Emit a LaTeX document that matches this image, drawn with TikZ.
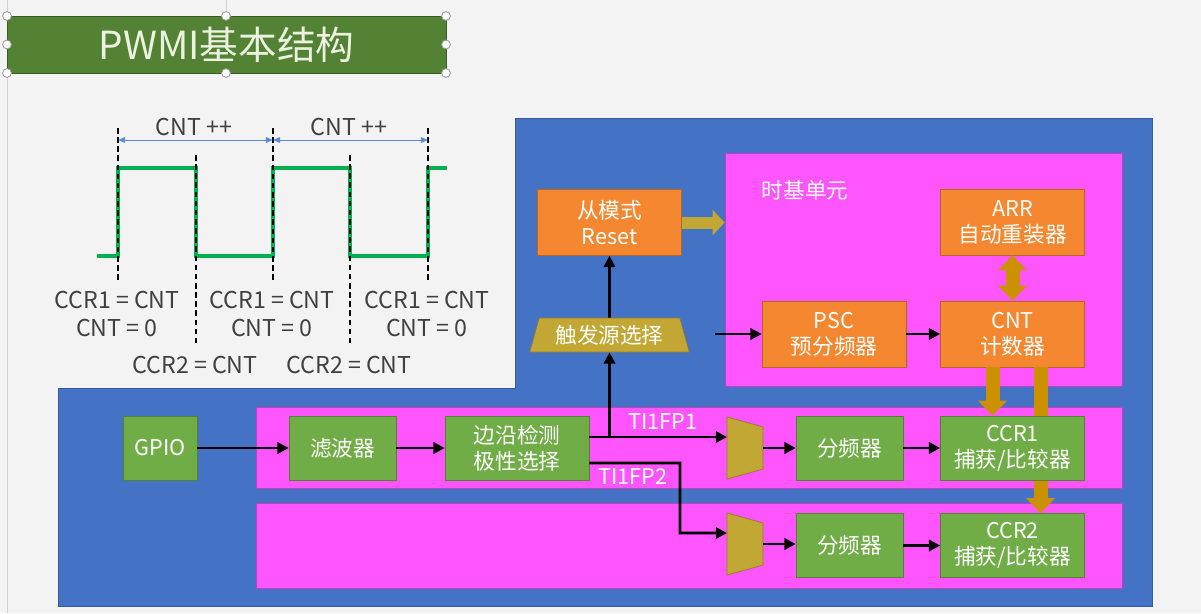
\documentclass[tikz,border=0pt]{standalone}
\usepackage{fontspec}
\setmainfont{Noto Sans CJK SC}
\usetikzlibrary{arrows.meta,shapes.geometric}
\definecolor{slidebg}{RGB}{243,243,243}
\definecolor{titlegreen}{RGB}{84,130,53}
\definecolor{titletext}{RGB}{236,242,224}
\definecolor{chipblue}{RGB}{68,114,196}
\definecolor{unitpink}{RGB}{255,85,255}
\definecolor{regorange}{RGB}{244,135,48}
\definecolor{stagegreen}{RGB}{112,173,71}
\definecolor{muxgold}{RGB}{194,167,52}
\definecolor{busgold}{RGB}{204,145,0}
\definecolor{wavegreen}{RGB}{0,176,80}
\definecolor{labelgray}{RGB}{64,64,64}
\definecolor{spanblue}{RGB}{91,140,220}
\begin{document}
\begin{tikzpicture}[x=0.025cm,y=-0.025cm,
  every node/.style={font=\fontsize{15.4}{18.5}\selectfont},
  titlebar/.style={fill=titlegreen,draw=titlegreen!70!black,text=titletext,minimum width=10.975cm,minimum height=1.425cm,font=\fontsize{27.5}{32}\selectfont},
  handle/.style={fill=white,draw=black!40,line width=0.6pt},
  wave/.style={wavegreen,line width=2.2pt},
  markline/.style={black,line width=1.2pt,dash pattern=on 4pt off 2.5pt},
  span/.style={spanblue,line width=0.7pt,{Triangle[length=5pt,width=4pt]}-{Triangle[length=5pt,width=4pt]}},
  wavelabel/.style={text=labelgray,align=center,font=\fontsize{16.5}{19.5}\selectfont},
  regbox/.style={fill=regorange,draw=regorange!75!black,text=white,align=center,minimum width=3.6cm,minimum height=1.65cm},
  stage/.style={fill=stagegreen,draw=stagegreen!75!black,text=white,align=center,minimum width=3.6cm,minimum height=1.6cm},
  stagesmall/.style={stage,minimum width=2.675cm},
  unit/.style={fill=unitpink,draw=unitpink!75!black,line width=0.5pt},
  muxslot/.style={minimum width=0.9cm,minimum height=1.55cm,inner sep=0pt,outer sep=0pt},
  muxbody/.style={fill=muxgold,draw=muxgold!75!black,line width=0.5pt},
  trigger/.style={trapezium,trapezium angle=75,trapezium stretches=true,fill=muxgold,draw=muxgold!75!black,text=white,minimum width=4cm,minimum height=0.85cm},
  sig/.style={black,line width=2pt,-{Triangle[length=8pt,width=8pt]}},
  bus/.style={busgold,line width=0.35cm,-{Triangle[length=0.375cm,width=0.7cm]}},
  busboth/.style={busgold,line width=0.35cm,{Triangle[length=0.375cm,width=0.7cm]}-{Triangle[length=0.375cm,width=0.7cm]}},
  resetbus/.style={muxgold,line width=0.3cm,-{Triangle[length=0.3cm,width=0.625cm]}},
  fplabel/.style={text=white}]

  % slide background
  \useasboundingbox (0,0) rectangle (1201,613);
  \fill[slidebg] (0,0) rectangle (1201,613);
  \draw[black!18] (7,0) -- (7,613);
  \draw[black!18] (226,0) -- (226,16);

  % title
  \node (title) [titlebar] at (226.5,44.5) {PWMI基本结构};
  \foreach \hx/\hy in {7/16,226/16,446/16,7/44.5,446/44.5,7/73,226/73,446/73}
    \draw[handle] (\hx,\hy) circle [radius=0.11cm];

  % waveform
  \draw[wave] (97,256) -- (118,256) -- (118,168) -- (196,168) -- (196,256) -- (273,256)
    -- (273,168) -- (350,168) -- (350,256) -- (428,256) -- (428,168) -- (447,168);
  \foreach \t in {118,273,428}
    \draw[markline] (\t,128) -- (\t,280);
  \foreach \t in {196,350}
    \draw[markline] (\t,155) -- (\t,344);
  \draw[span] (118,140) -- (273,140);
  \draw[span] (273,140) -- (428,140);
  \node (inc1) [wavelabel] at (194,127) {CNT ++};
  \node (inc2) [wavelabel] at (349,127) {CNT ++};
  \node (clr1) [wavelabel] at (117,314) {CCR1 = CNT\\CNT = 0};
  \node (clr2) [wavelabel] at (272,314) {CCR1 = CNT\\CNT = 0};
  \node (clr3) [wavelabel] at (427,314) {CCR1 = CNT\\CNT = 0};
  \node (cap1) [wavelabel] at (195,365) {CCR2 = CNT};
  \node (cap2) [wavelabel] at (349,365) {CCR2 = CNT};

  % timer block
  \fill[chipblue,draw=chipblue!80!black,line width=0.5pt] (515,118) -- (1152,118) -- (1152,606)
    -- (58,606) -- (58,388) -- (515,388) -- cycle;
  \node (tbase) [unit,minimum width=9.925cm,minimum height=5.825cm] at (923.5,269.5) {};
  \node (tblabel) [text=white,anchor=west] at (757,190) {时基单元};
  \draw[unit] (256,407) rectangle (1122,488);
  \draw[unit] (256,503) rectangle (1122,588);

  \node (reset) [regbox] at (609.5,222.5) {从模式\\Reset};
  \node (arr) [regbox] at (1012.5,222) {ARR\\自动重装器};
  \node (psc) [regbox] at (834,334) {PSC\\预分频器};
  \node (cnt) [regbox] at (1012.5,334) {CNT\\计数器};
  \node (trig) [trigger] at (609.5,335) {触发源选择};

  \node (gpio) [stage,minimum width=1.85cm] at (160,448) {GPIO};
  \node (filter) [stagesmall] at (342.5,448) {滤波器};
  \node (edge) [stage] at (517,448) {边沿检测\\极性选择};
  \node (mux1) [muxslot] at (745,448) {};
  \node (mux2) [muxslot] at (745,544) {};
  \fill[muxbody] (mux1.north west) -- ([yshift=-0.25cm]mux1.north east)
    -- ([yshift=0.25cm]mux1.south east) -- (mux1.south west) -- cycle;
  \fill[muxbody] (mux2.north west) -- ([yshift=-0.25cm]mux2.north east)
    -- ([yshift=0.25cm]mux2.south east) -- (mux2.south west) -- cycle;
  \node (div1) [stagesmall] at (849.5,448) {分频器};
  \node (div2) [stagesmall] at (849.5,545.5) {分频器};
  \node (ccr2) [stage] at (1012.5,545.5) {CCR2\\捕获/比较器};
  \draw[bus] ([xshift=0.7cm]cnt.south) -- ([xshift=0.7cm]ccr2.north);
  \node (ccr1) [stage] at (1012.5,448) {CCR1\\捕获/比较器};

  % buses
  \draw[resetbus] (reset) -- (reset -| tbase.west);
  \draw[busboth] (arr) -- (cnt);
  \draw[bus] ([xshift=-0.5cm]cnt.south) -- ([xshift=-0.5cm]ccr1.north);

  % signals
  \coordinate (fp1) at (609.5,437);
  \coordinate (fp2) at (680,463);
  \coordinate (pscin) at (715,334);
  \draw[sig] (gpio) -- (filter);
  \draw[sig] (filter) -- (edge);
  \draw[sig] ([yshift=0.275cm]edge.east) -- ([yshift=0.275cm]mux1.west);
  \draw[sig] (fp1) -- (trig.south);
  \draw[sig] (trig) -- (reset);
  \draw[sig] ([yshift=-0.375cm]edge.east) -- (fp2) |- ([yshift=0.275cm]mux2.west);
  \draw[sig] (mux1.east) -- (div1);
  \draw[sig] (div1) -- (ccr1);
  \draw[sig] (mux2.east) -- (div2.west |- mux2.east);
  \draw[sig] (div2) -- (ccr2);
  \draw[sig] (pscin) -- (psc);
  \draw[sig] (psc) -- (cnt);
  \node (fp1label) [fplabel] at (663,422) {TI1FP1};
  \node (fp2label) [fplabel] at (633,477) {TI1FP2};
\end{tikzpicture}
\end{document}
